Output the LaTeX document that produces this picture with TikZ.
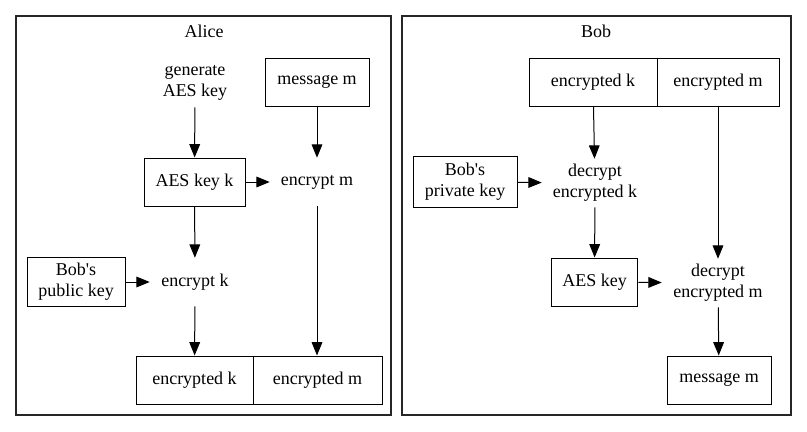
\documentclass[tikz,border=0pt]{standalone}
\usepackage{fontspec}
\setmainfont{Liberation Serif}
\usetikzlibrary{arrows.meta}
\tikzset{
  box/.style={draw, line width=0.75pt, minimum height=36pt, inner sep=0pt, align=center},
  txt/.style={minimum height=36pt, inner sep=0pt, align=center},
  cluster/.style={draw=black!85, line width=0.9pt},
  flow/.style={-{Triangle[length=10pt,width=8pt]}, line width=0.75pt}
}

\begin{document}
\begin{tikzpicture}[x=0.75pt,y=-0.75pt,font=\fontsize{13.5}{15.75}\selectfont]
  \useasboundingbox (0,0) rectangle (807,432);
  % Alice
  \draw[cluster] (16,16) rectangle (391,415);
  \node (alice) at (204,31) {Alice};
  \node[txt, minimum width=60pt] (gen) at (195,83) {generate\\AES key};
  \node[box, minimum width=78pt] (msgA) at (317,82) {message m};
  \node[box, minimum width=75.75pt] (keyk) at (194.5,182) {AES key k};
  \node[txt, minimum width=70.5pt] (encm) at (317,182) {encrypt m};
  \node[box, minimum width=73.5pt, minimum height=37pt] (pubkey) at (76,282) {Bob\textquotesingle s\\public key};
  \node[txt, minimum width=67.5pt] (enck) at (195,282) {encrypt k};
  \node[box, minimum width=87.75pt] (outk) at (194.5,380) {encrypted k};
  \node[box, minimum width=96.75pt] (outm) at (317.5,380) {encrypted m};
  % Bob
  \draw[cluster] (402,16) rectangle (791,415);
  \node (bob) at (596,31) {Bob};
  \node[box, minimum width=96pt] (ink) at (593,82) {encrypted k};
  \node[box, minimum width=91.5pt] (inm) at (718,82) {encrypted m};
  \node[box, minimum width=78pt, minimum height=38pt] (privkey) at (465,182) {Bob\textquotesingle s\\private key};
  \node[txt, minimum width=79.5pt] (deck) at (595,183) {decrypt\\encrypted k};
  \node[box, minimum width=65pt] (aes) at (594.5,282) {AES key};
  \node[txt, minimum width=84pt] (decm) at (718,283) {decrypt\\encrypted m};
  \node[box, minimum width=78pt] (msgB) at (719,380) {message m};

  \path[flow]
    (gen) edge (keyk)
    (msgA) edge (encm)
    (keyk) edge (encm)
           edge (enck)
    (pubkey) edge (enck)
    (enck) edge (outk)
    (encm) edge (outm.north -| encm)
    (ink) edge (deck)
    (privkey) edge (deck)
    (deck) edge (aes)
    (inm) edge (decm)
    (aes) edge (decm)
    (decm) edge (msgB);
\end{tikzpicture}
\end{document}
